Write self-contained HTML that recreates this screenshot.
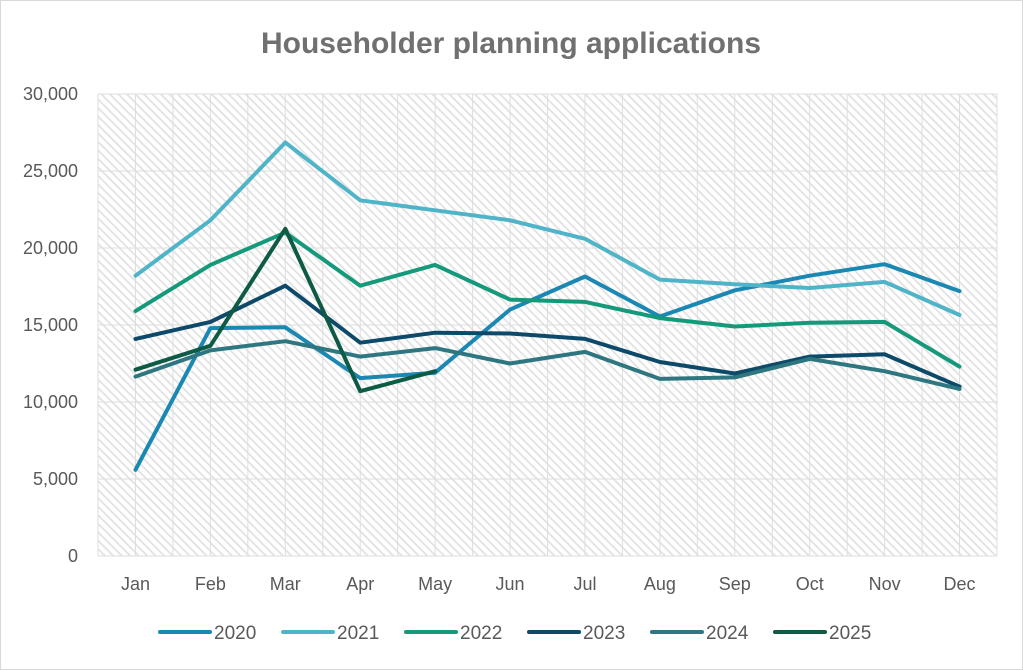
<!DOCTYPE html>
<html><head><meta charset="utf-8"><style>
html,body{margin:0;padding:0;background:#fff;}
svg{display:block;font-family:"Liberation Sans",sans-serif;}
</style></head><body>
<svg id="c" width="1023" height="670" viewBox="0 0 1023 670" xmlns="http://www.w3.org/2000/svg">
<defs>
<pattern id="h" width="6" height="6" patternUnits="userSpaceOnUse" patternTransform="rotate(45)">
<rect width="6" height="6" fill="#fff"/>
<rect x="0" y="0" width="6" height="1.8" fill="#e2e2e2"/>
</pattern>
</defs>
<rect x="0.5" y="0.5" width="1022" height="669" fill="#fff" stroke="#d9d9d9"/>
<text x="511" y="53" text-anchor="middle" font-size="30" font-weight="bold" fill="#707070">Householder planning applications</text>
<rect x="98" y="94" width="899" height="462" fill="url(#h)"/>
<g id="grid" stroke="#dedede" stroke-width="1"></g>
<g id="lab" font-size="18" fill="#595959"></g>
<g id="ser" fill="none" stroke-width="4" stroke-linejoin="round" stroke-linecap="round"></g>
<g id="leg" font-size="19" fill="#595959"></g>
</svg>
<script>
var ns="http://www.w3.org/2000/svg";
function el(p,t,a,txt){var e=document.createElementNS(ns,t);for(var k in a)e.setAttribute(k,a[k]);if(txt!==undefined)e.textContent=txt;document.getElementById(p).appendChild(e);}
var x0=98,w=899,y0=556,ppu=462/30000,cw=w/12;
for(var i=0;i<=6;i++){var y=y0-i*5000*ppu;el("grid","line",{x1:x0,x2:x0+w,y1:y,y2:y});
el("lab","text",{x:78,y:y+6,"text-anchor":"end"},i==0?"0":(i*5).toString()+",000");}
for(var i=0;i<=24;i++){var x=x0+i*cw/2;el("grid","line",{x1:x,x2:x,y1:94,y2:556});}
var m=["Jan","Feb","Mar","Apr","May","Jun","Jul","Aug","Sep","Oct","Nov","Dec"];
m.forEach(function(s,i){el("lab","text",{x:x0+cw*(i+.5),y:590,"text-anchor":"middle"},s);});
var S=[
["2020","#1b87b3",[5600,14800,14850,11550,11900,16000,18150,15550,17250,18200,18950,17200]],
["2021","#4fb4c8",[18200,21800,26850,23100,22450,21800,20600,17950,17650,17400,17800,15650]],
["2022","#14997a",[15900,18900,21000,17550,18900,16650,16500,15450,14900,15150,15200,12300]],
["2023","#0d4a6a",[14100,15200,17550,13850,14500,14450,14100,12600,11850,12950,13100,11000]],
["2024","#2e7680",[11650,13350,13950,12950,13500,12500,13250,11500,11600,12800,12000,10850]],
["2025","#0d5a45",[12100,13650,21250,10700,12000]]];
var lx=[160,283,406,529,652,775];
S.forEach(function(s,j){var p=s[2].map(function(v,i){return (x0+cw*(i+.5)).toFixed(1)+","+(y0-v*ppu).toFixed(1);}).join(" ");
el("ser","polyline",{points:p,stroke:s[1]});
el("leg","line",{x1:lx[j],x2:lx[j]+50,y1:632,y2:632,stroke:s[1],"stroke-width":4,"stroke-linecap":"round"});
el("leg","text",{x:lx[j]+54,y:639},s[0]);});
</script>
</body></html>
